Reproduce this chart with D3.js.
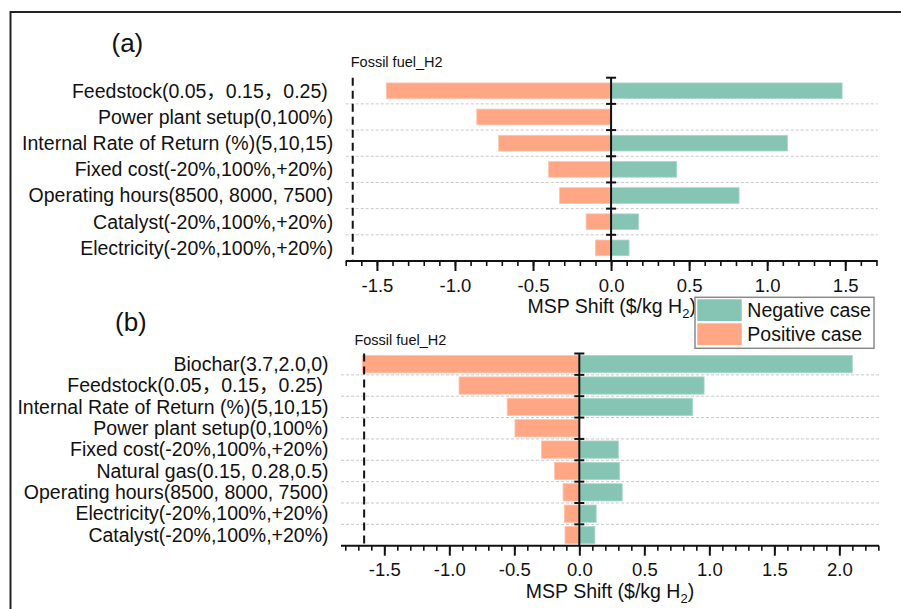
<!DOCTYPE html>
<html><head><meta charset="utf-8">
<script src="https://cdn.jsdelivr.net/npm/d3@7"></script>
<style>
html,body{margin:0;padding:0;background:#fff;}
svg{display:block;font-family:"Liberation Sans","Noto Sans CJK SC",Arial,sans-serif;}
text{white-space:pre;}
</style></head>
<body>
<svg id="chart" width="901" height="609"></svg>
<script>
// ---- data ----
const categoriesA = ["Feedstock(0.05，0.15，0.25) ", "Power plant setup(0,100%)", "Internal Rate of Return (%)(5,10,15)", "Fixed cost(-20%,100%,+20%)", "Operating hours(8500, 8000, 7500)", "Catalyst(-20%,100%,+20%)", "Electricity(-20%,100%,+20%)"];
const positiveA = [-1.44, -0.86, -0.72, -0.40, -0.33, -0.16, -0.10];
const negativeA = [1.48, 0, 1.13, 0.42, 0.82, 0.175, 0.115];

const categoriesB = ["Biochar(3.7,2.0,0)", "Feedstock(0.05，0.15，0.25) ", "Internal Rate of Return (%)(5,10,15)", "Power plant setup(0,100%)", "Fixed cost(-20%,100%,+20%)", "Natural gas(0.15, 0.28,0.5)", "Operating hours(8500, 8000, 7500)", "Electricity(-20%,100%,+20%)", "Catalyst(-20%,100%,+20%)"];
const positiveB = [-1.67, -0.925, -0.555, -0.495, -0.29, -0.19, -0.125, -0.115, -0.11];
const negativeB = [2.10, 0.96, 0.87, 0, 0.30, 0.31, 0.33, 0.13, 0.12];

const fossilFuelH2 = -1.655;
const ticksA = [-1.5, -1.0, -0.5, 0.0, 0.5, 1.0, 1.5];
const ticksB = [-1.5, -1.0, -0.5, 0.0, 0.5, 1.0, 1.5, 2.0];
const seriesNames = ["Negative case", "Positive case"];
const panelLabels = ["(a)", "(b)"];
const fossilLabel = "Fossil fuel_H2";

// ---- style ----
const GREEN = "#86C5B4", ORANGE = "#FFA685";
const svg = d3.select("#chart");

// outer frame (top & left visible)
svg.append("path").attr("d", "M10.5,609 L10.5,12 L901,12")
  .attr("fill", "none").attr("stroke", "#222").attr("stroke-width", 2);

function panel(cfg) {
  const {cats, pos, neg, domain, xr, yr, ticks, barFrac, label, labelPos, fossilDx, fossilBase} = cfg;
  const g = svg.append("g");
  const x = d3.scaleLinear().domain(domain).range(xr);
  const yGrid = d3.scaleBand().domain(cats).range(yr).padding(0);
  const p = 1 - barFrac;
  const yBar = d3.scaleBand().domain(cats).range(yr).paddingInner(p).paddingOuter(p / 2);
  const step = yGrid.step();

  // gridlines at inner band boundaries
  g.selectAll(".grid").data(cats.slice(1)).join("line")
    .attr("x1", xr[0]).attr("x2", xr[1])
    .attr("y1", d => yGrid(d)).attr("y2", d => yGrid(d))
    .attr("stroke", "#c8c8c8").attr("stroke-width", 1).attr("stroke-dasharray", "3,2");

  // bars
  g.selectAll(".pos").data(cats).join("rect")
    .attr("x", (d, i) => x(pos[i])).attr("width", (d, i) => x(0) - x(pos[i]))
    .attr("y", d => yBar(d)).attr("height", yBar.bandwidth())
    .attr("fill", ORANGE).attr("stroke", "#ffc2ab").attr("stroke-width", 0.8);
  g.selectAll(".neg").data(cats.filter((d, i) => neg[i] > 0)).join("rect")
    .attr("x", x(0)).attr("width", d => x(neg[cats.indexOf(d)]) - x(0))
    .attr("y", d => yBar(d)).attr("height", yBar.bandwidth())
    .attr("fill", GREEN).attr("stroke", "#a9d8cb").attr("stroke-width", 0.8);

  // fossil fuel dashed line
  g.append("line").attr("x1", x(fossilFuelH2)).attr("x2", x(fossilFuelH2))
    .attr("y1", yr[0]).attr("y2", yr[1])
    .attr("stroke", "#111").attr("stroke-width", 2).attr("stroke-dasharray", "8,5");
  g.append("text").attr("x", x(fossilFuelH2) + fossilDx).attr("y", fossilBase)
    .attr("font-size", 14.5).attr("fill", "#111").text(fossilLabel);

  // zero axis with ticks at band boundaries
  g.append("line").attr("x1", x(0)).attr("x2", x(0)).attr("y1", yr[0]).attr("y2", yr[1])
    .attr("stroke", "#111").attr("stroke-width", 2);
  g.selectAll(".ztick").data(cats).join("line")
    .attr("x1", x(0) - 5).attr("x2", x(0) + 5)
    .attr("y1", d => yGrid(d)).attr("y2", d => yGrid(d))
    .attr("stroke", "#111").attr("stroke-width", 2);

  // category labels
  g.selectAll(".cat").data(cats).join("text")
    .attr("x", xr[0] - 12.5).attr("y", d => yGrid(d) + step / 2).attr("dy", "0.35em")
    .attr("text-anchor", "end").attr("font-size", 19.5).attr("fill", "#111")
    .text(d => d);

  // x axis: minor then major
  const minorTicks = d3.range(Math.ceil(domain[0] * 10), Math.floor(domain[1] * 10) + 1).map(v => v / 10);
  const axMinor = g.append("g").attr("transform", `translate(0,${yr[1]})`)
    .call(d3.axisBottom(x).tickValues(minorTicks).tickSize(5).tickSizeOuter(0).tickFormat(""));
  axMinor.select(".domain").attr("stroke", "#111").attr("stroke-width", 2)
    .attr("d", `M${xr[0]},0H${xr[1]}`);
  axMinor.selectAll(".tick line").attr("stroke", "#111").attr("stroke-width", 1.6);
  const axMajor = g.append("g").attr("transform", `translate(0,${yr[1]})`)
    .call(d3.axisBottom(x).tickValues(ticks).tickSize(10).tickPadding(7.5).tickSizeOuter(0)
      .tickFormat(d => d.toFixed(1)));
  axMajor.select(".domain").remove();
  axMajor.selectAll(".tick line").attr("stroke", "#111").attr("stroke-width", 2);
  axMajor.selectAll(".tick text").attr("font-size", 18.5).attr("fill", "#111")
    .attr("font-family", "Liberation Sans, Arial, sans-serif");

  // axis title
  const t = g.append("text").attr("x", (xr[0] + xr[1]) / 2).attr("y", yr[1] + 52)
    .attr("text-anchor", "middle").attr("font-size", 19.5).attr("fill", "#111");
  t.append("tspan").text("MSP Shift ($/kg H");
  t.append("tspan").attr("font-size", 13).attr("dy", 5).text("2");
  t.append("tspan").attr("dy", -5).text(")");

  // panel label
  svg.append("text").attr("x", labelPos[0]).attr("y", labelPos[1])
    .attr("font-size", 26).attr("fill", "#111").text(label);
}

panel({cats: categoriesA, pos: positiveA, neg: negativeA, domain: [-1.7, 1.708],
  xr: [345.7, 877.7], yr: [77.7, 261], ticks: ticksA, barFrac: 0.6,
  label: panelLabels[0], labelPos: [111.5, 52], fossilDx: -2, fossilBase: 66.5});
panel({cats: categoriesB, pos: positiveB, neg: negativeB, domain: [-1.833, 2.305],
  xr: [341, 879], yr: [353.5, 545.7], ticks: ticksB, barFrac: 0.81,
  label: panelLabels[1], labelPos: [115, 331], fossilDx: -9.7, fossilBase: 345});

// legend
const lg = svg.append("g");
lg.append("rect").attr("x", 695).attr("y", 297.3).attr("width", 179).attr("height", 51)
  .attr("fill", "#fff").attr("stroke", "#8a8a8a").attr("stroke-width", 1.5);
const colors = [GREEN, ORANGE];
lg.selectAll(".sw").data(seriesNames).join("rect")
  .attr("x", 697.3).attr("y", (d, i) => 299.3 + i * 24).attr("width", 44.4).attr("height", 21.7)
  .attr("fill", (d, i) => colors[i]);
lg.selectAll(".lt").data(seriesNames).join("text")
  .attr("x", 747.3).attr("y", (d, i) => 316.5 + i * 24)
  .attr("font-size", 19.5).attr("fill", "#111").text(d => d);
</script>
</body></html>
